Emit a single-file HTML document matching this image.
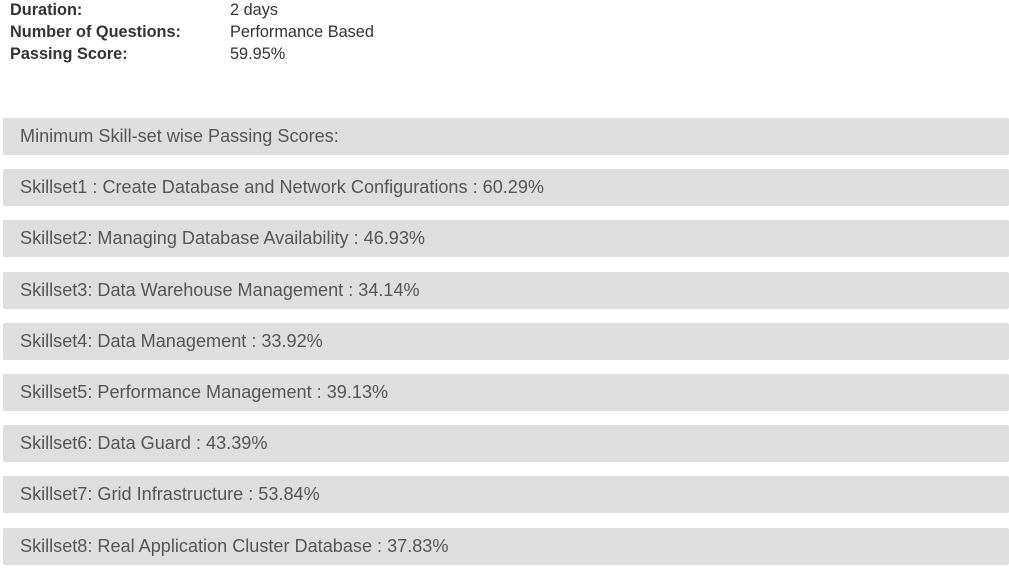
<!DOCTYPE html>
<html><head><style>
body{margin:0;width:1009px;height:571px;background:#fff;font-family:"Liberation Sans",Arial,sans-serif;position:relative;overflow:hidden}
.r{position:absolute;left:10px;font-size:16.3px;line-height:20px;color:#333;white-space:nowrap}
.r b{display:inline-block;width:220px;color:#333}
.bar{position:absolute;left:3px;width:1006px;height:37px;background:#dedede;border-radius:2px;color:#555;font-size:18.1px;line-height:37px;padding-left:17px;box-sizing:border-box;white-space:nowrap}
</style></head><body>
<div class="r" style="top:0px"><b>Duration:</b>2 days</div>
<div class="r" style="top:22px"><b>Number of Questions:</b>Performance Based</div>
<div class="r" style="top:44px"><b>Passing Score:</b>59.95%</div>
<div class="bar" style="top:118px">Minimum Skill-set wise Passing Scores:</div>
<div class="bar" style="top:169.2px">Skillset1 : Create Database and Network Configurations : 60.29%</div>
<div class="bar" style="top:220.4px">Skillset2: Managing Database Availability : 46.93%</div>
<div class="bar" style="top:271.6px">Skillset3: Data Warehouse Management : 34.14%</div>
<div class="bar" style="top:322.8px">Skillset4: Data Management : 33.92%</div>
<div class="bar" style="top:374px">Skillset5: Performance Management : 39.13%</div>
<div class="bar" style="top:425.2px">Skillset6: Data Guard : 43.39%</div>
<div class="bar" style="top:476.4px">Skillset7: Grid Infrastructure : 53.84%</div>
<div class="bar" style="top:527.6px">Skillset8: Real Application Cluster Database : 37.83%</div>
</body></html>
